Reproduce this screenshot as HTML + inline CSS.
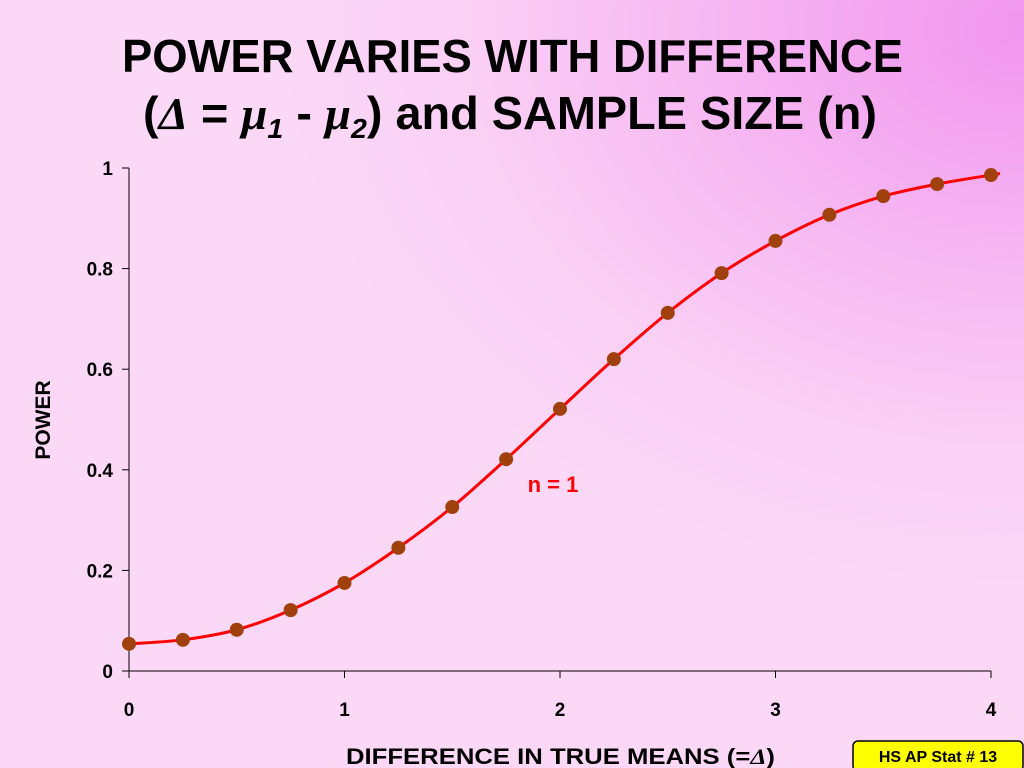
<!DOCTYPE html>
<html><head><meta charset="utf-8"><style>
body{margin:0;width:1024px;height:768px;overflow:hidden;font-family:"Liberation Sans",sans-serif;}
#bg{position:absolute;left:0;top:0;width:1024px;height:768px;background:radial-gradient(ellipse 750px 560px at 1024px 30px,#f196ee 0%,#f6b6f2 40%,#fad0f5 75%,#fbd8f6 100%);}
</style></head><body>
<div id="bg"></div>
<svg width="1024" height="768" style="position:absolute;left:0;top:0" id="chart">
<g font-weight="bold" font-size="46" fill="#000">
<text x="122" y="72" textLength="781" lengthAdjust="spacingAndGlyphs">POWER VARIES WITH DIFFERENCE</text>
<text x="143" y="129" textLength="734" lengthAdjust="spacingAndGlyphs">(<tspan font-family="Liberation Serif" font-style="italic">Δ</tspan> = <tspan font-family="Liberation Serif" font-style="italic">μ</tspan><tspan font-size="28" dy="9" font-style="italic">1</tspan><tspan dy="-9"> - </tspan><tspan font-family="Liberation Serif" font-style="italic">μ</tspan><tspan font-size="28" dy="9" font-style="italic">2</tspan><tspan dy="-9">)  and SAMPLE SIZE (n)</tspan></text>
</g>
<g id="axes"></g>
<g id="series"></g>
<text x="50" y="420" transform="rotate(-90 50 420)" text-anchor="middle" font-weight="bold" font-size="21">POWER</text>
<text x="346" y="764" textLength="429" lengthAdjust="spacingAndGlyphs" font-weight="bold" font-size="22">DIFFERENCE IN TRUE MEANS (=<tspan font-family="Liberation Serif" font-style="italic">Δ</tspan>)</text>
<text x="553" y="492" text-anchor="middle" font-weight="bold" font-size="22" fill="#ff0000">n = 1</text>
<g>
<rect x="853" y="741" width="170" height="30" rx="5" fill="#ffff00" stroke="#000" stroke-width="1.5"/>
<text x="938" y="762" text-anchor="middle" font-weight="bold" font-size="16">HS AP Stat # 13</text>
</g>
</svg>
<script>
const xValues=[0,0.25,0.5,0.75,1,1.25,1.5,1.75,2,2.25,2.5,2.75,3,3.25,3.5,3.75,4];
const powerValues=[0.054,0.062,0.082,0.121,0.175,0.245,0.326,0.421,0.521,0.620,0.712,0.791,0.855,0.907,0.944,0.968,0.986];
const yTicks=[0,0.2,0.4,0.6,0.8,1];
const yTickLabels=["0","0.2","0.4","0.6","0.8","1"];
const xTicks=[0,1,2,3,4];
const xTickLabels=["0","1","2","3","4"];
const X=v=>129+v*(991-129)/4;
const Y=v=>671-v*(671-168);
const NS="http://www.w3.org/2000/svg";
function mk(t,a,p){const e=document.createElementNS(NS,t);for(const k in a)e.setAttribute(k,a[k]);p.appendChild(e);return e;}
const ax=document.getElementById('axes');
const yAxis=mk('line',{x1:129,y1:168,x2:129,y2:671,stroke:'#000','stroke-width':1},ax);


const xAxis=mk('line',{x1:129,y1:671,x2:991,y2:671,stroke:'#000','stroke-width':1},ax);


yTicks.forEach((v,i)=>{
 const t=mk('line',{x1:122,y1:Y(v),x2:129,y2:Y(v),stroke:'#000'},ax);
 
 
 const l=mk('text',{x:113,y:Y(v)+7,'text-anchor':'end','font-weight':'bold','font-size':19},ax);
 l.textContent=yTickLabels[i];
 
 
});
xTicks.forEach((v,i)=>{
 const t=mk('line',{x1:X(v),y1:671,x2:X(v),y2:678,stroke:'#000'},ax);
 
 
 const l=mk('text',{x:X(v),y:716,'text-anchor':'middle','font-weight':'bold','font-size':19},ax);
 l.textContent=xTickLabels[i];
 
 
});
const s=document.getElementById('series');
const pts=xValues.map((x,i)=>[X(x),Y(powerValues[i])]);
let d='M'+pts[0][0]+','+pts[0][1];
for(let i=0;i<pts.length-1;i++){
 const p0=pts[Math.max(0,i-1)],p1=pts[i],p2=pts[i+1],p3=pts[Math.min(pts.length-1,i+2)];
 d+=' C'+(p1[0]+(p2[0]-p0[0])/6)+','+(p1[1]+(p2[1]-p0[1])/6)+' '+(p2[0]-(p3[0]-p1[0])/6)+','+(p2[1]-(p3[1]-p1[1])/6)+' '+p2[0]+','+p2[1];
}
const n=pts.length-1;
d+=' L'+(pts[n][0]+9)+','+(pts[n][1]-1.5);
const line=mk('path',{d:d,fill:'none',stroke:'#ff0000','stroke-width':3},s);


pts.forEach(p=>{
 const c=mk('circle',{cx:p[0],cy:p[1],r:7,fill:'#a0410d'},s);
 
 
});
</script>
</body></html>
